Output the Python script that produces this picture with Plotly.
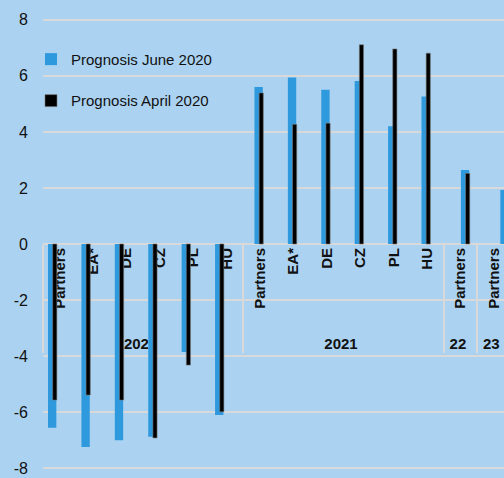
import plotly.graph_objects as go

# Daten
years = ["2020"] * 6 + ["2021"] * 6 + ["22", "23"]
countries = ["Partners", "EA*", "DE", "CZ", "PL", "HU"] * 2 + ["Partners", "Partners"]
june_2020 = [-6.56, -7.24, -7.0, -6.88, -3.85, -6.1,
             5.6, 5.94, 5.5, 5.82, 4.2, 5.26,
             2.64, 1.93]
april_2020 = [-5.57, -5.39, -5.57, -6.92, -4.32, -5.99,
              5.39, 4.27, 4.31, 7.11, 6.96, 6.81,
              2.52, 1.9]
y_ticks = [-8, -6, -4, -2, 0, 2, 4, 6, 8]

# Farben
COLOR_JUNI = "#2F99DD"
COLOR_APRIL = "#000000"
COLOR_FONDO = "#ABD3F1"
COLOR_GRILLA = "#D9D9D9"

# Gruppenindex je Kategorie (leichte Verschiebung der Balken je Gruppe)
group_of = {"2020": 0, "2021": 1, "22": 2, "23": 3}
grp = [group_of[y] for y in years]
off_blue = [-0.35 + 0.18 * g for g in grp]
off_black = [-0.21 + 0.18 * g for g in grp]

# Etiketten: unsichtbarer Vorlauf, damit die Jahreszeile etwas tiefer sitzt
pad = "\u00a0\u00a0\u2009"
labels = [pad + c if c == "Partners" else c for c in countries]
xcat = [years, labels]

fig = go.Figure()

fig.add_trace(go.Bar(
    x=xcat,
    y=june_2020,
    name="Prognosis June 2020",
    marker=dict(color=COLOR_JUNI, line=dict(width=0)),
    width=0.25,
    offset=off_blue,
    legendgroup="a",
))

fig.add_trace(go.Bar(
    x=xcat,
    y=april_2020,
    name="Prognosis April 2020",
    marker=dict(color=COLOR_APRIL, line=dict(width=0.6, color="#777777")),
    width=0.125,
    offset=off_black,
    legendgroup="b",
))

fig.update_layout(
    barmode="overlay",
    width=504,
    height=478,
    plot_bgcolor=COLOR_FONDO,
    paper_bgcolor=COLOR_FONDO,
    font=dict(family="Liberation Sans, Arial", color="#111111"),
    margin=dict(l=43, r=0, t=17, b=7, autoexpand=False),
    showlegend=True,
    legend=dict(
        x=-0.026, y=0.943,
        xanchor="left", yanchor="top",
        bgcolor="rgba(0,0,0,0)",
        font=dict(size=15, color="#111111"),
        tracegroupgap=19,
        traceorder="grouped",
    ),
    xaxis=dict(
        type="multicategory",
        anchor="free",
        position=0.5,
        range=[-0.5, 13.3],
        showgrid=False,
        showline=False,
        ticks="",
        tickangle=-90,
        tickfont=dict(size=15, family="Liberation Sans, Arial", color="#111111",
                      weight="bold"),
        showdividers=True,
        dividercolor=COLOR_GRILLA,
        dividerwidth=2,
        layer="below traces",
    ),
    yaxis=dict(
        range=[-8.1, 8.1],
        tickvals=y_ticks,
        ticktext=[str(v) for v in y_ticks],
        tickfont=dict(size=16, color="#111111"),
        showgrid=True,
        gridcolor=COLOR_GRILLA,
        gridwidth=2,
        zeroline=True,
        zerolinecolor=COLOR_GRILLA,
        zerolinewidth=2,
        showline=False,
        ticks="",
        ticklabelstandoff=14,
    ),
)

fig.write_html(
    "out.html",
    config={"displayModeBar": False},
    post_script="document.body.style.margin='0';",
)
